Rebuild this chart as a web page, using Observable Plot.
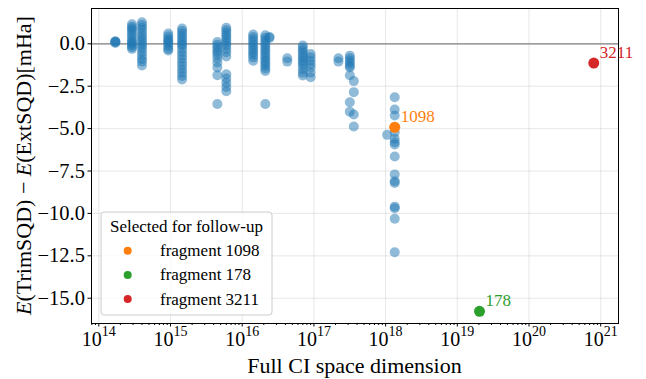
<!DOCTYPE html>
<html><head><meta charset="utf-8">
<script src="https://cdn.jsdelivr.net/npm/d3@7"></script>
<script src="https://cdn.jsdelivr.net/npm/@observablehq/plot@0.6"></script>
<style>body{margin:0;background:#fff} #chart svg{display:block}</style>
</head><body><div id="chart"></div>
<script>
// Full CI space dimension of each column of fragments
const columnDims = [1.7e14, 2.9e14, 4.0e14, 9.3e14, 1.45e15, 4.5e15, 6.0e15, 1.42e16, 2.1e16, 2.4e16,
  4.25e16, 7.0e16, 9.0e16, 2.2e17, 3.17e17, 3.6e17, 1.05e18, 1.34e18];
// Energy differences (mHa) for the fragments in each column
const columnValues = [
  [0.15, 0.1, 0.05, 0.12],
  [1.15, 1.0, 0.9, 0.8, 0.65, 0.5, 0.35, 0.2, 0.1, 0.0, -0.1, -0.2, -0.3],
  [1.27, 1.1, 0.95, 0.8, 0.6, 0.45, 0.3, 0.15, 0.0, -0.15, -0.3, -0.5, -0.7, -0.9, -1.05, -1.28],
  [0.6, 0.45, 0.3, 0.2, 0.1, 0.0, -0.15, -0.3, -0.4],
  [0.9, 0.75, 0.6, 0.45, 0.3, 0.15, 0.0, -0.1, -0.3, -0.5, -0.7, -0.9, -1.1, -1.3, -1.5, -1.7, -1.9, -2.1],
  [0.1, -0.05, -0.2, -0.35, -0.5, -0.65, -0.85, -1.1, -1.4, -1.85, -3.55],
  [0.95, 0.8, 0.65, 0.5, 0.35, 0.2, 0.05, -0.1, -0.3, -0.5, -0.75, -1.8, -2.05, -2.3, -2.55, -2.8],
  [0.55, 0.4, 0.25, 0.1, -0.05, -0.2, -0.35, -0.5, -0.65, -0.8, -1.0],
  [0.5, 0.35, 0.2, 0.05, -0.1, -0.25, -0.4, -0.55, -0.7, -0.85, -1.0, -1.15, -1.3, -1.45, -1.6, -3.55],
  [0.4, 0.35],
  [-0.85, -1.05],
  [-0.1, -0.25, -0.4, -0.55, -0.7, -0.85, -1.0, -1.15, -1.3, -1.5, -1.7, -1.87],
  [-0.6, -0.8, -1.0, -1.2, -1.4, -1.7, -1.97],
  [-0.85, -1.05],
  [-0.7, -0.85, -1.0, -1.15, -1.3, -1.4, -1.85, -3.45, -4.0],
  [-2.2, -2.85, -4.17, -4.88],
  [-5.37],
  [-3.15, -3.87, -4.23, -5.21, -5.6, -5.8, -5.94, -6.64, -7.7, -8.1, -8.2, -9.6, -9.7, -10.32, -12.29]
];
// Selected fragments
const selNames = ["fragment 1098", "fragment 178", "fragment 3211"];
const selLabels = ["1098", "178", "3211"];
const selDims = [1.34e18, 2.04e19, 8.0e20];
const selValues = [-4.92, -15.77, -1.14];
const selColors = ["#ff7f0e", "#2ca02c", "#d62728"];
// Axis ticks
const xTickExps = [14, 15, 16, 17, 18, 19, 20, 21];
const yTicks = [0, -2.5, -5, -7.5, -10, -12.5, -15];

const blue = columnDims.flatMap((x, i) => columnValues[i].map(y => ({x, y})));
const sel = selDims.map((x, i) => ({x, y: selValues[i], label: selLabels[i], color: selColors[i]}));
const xDecades = xTickExps.map(e => Math.pow(10, e));
const xDomain = [Math.pow(10, 13.898), Math.pow(10, 21.248)];
const minor = d3.scaleLog().domain(xDomain).ticks().filter(t => !xDecades.some(d => Math.abs(d - t) / d < 1e-9));

const FONT = "'Liberation Serif', 'Times New Roman', serif";
const W = 646, H = 379, ML = 91, MR = 28, MT = 8, MB = 56;

const chart = Plot.plot({
  width: W, height: H,
  marginLeft: ML, marginRight: MR, marginTop: MT, marginBottom: MB,
  x: {type: "log", domain: xDomain},
  y: {domain: [-16.49, 2.08]},
  style: {fontFamily: FONT, fontSize: "20px", background: "white", color: "black"},
  marks: [
    Plot.gridX(xDecades, {stroke: "#b0b0b0", strokeOpacity: 0.3, strokeWidth: 1}),
    Plot.gridY(yTicks, {stroke: "#b0b0b0", strokeOpacity: 0.3, strokeWidth: 1}),
    Plot.ruleY([0], {stroke: "#808080", strokeWidth: 1.2}),
    Plot.dot(blue, {x: "x", y: "y", r: 5, fill: "#1f77b4", fillOpacity: 0.5, stroke: "none"}),
    Plot.dot(sel, {x: "x", y: "y", r: 5.5, fill: "color", stroke: "none"}),
    Plot.text(sel, {x: "x", y: "y", text: "label", fill: "color", dx: 6, dy: -11, textAnchor: "start", fontSize: 17}),
    Plot.frame({stroke: "black", strokeWidth: 1}),
    Plot.axisY({ticks: yTicks, tickFormat: d3.format(".1f"), tickSize: 3.5, tickPadding: 3, fontSize: 20.5, label: null}),
    Plot.axisX({ticks: xDecades, tickSize: 3.5, tickFormat: () => "", label: null}),
    Plot.axisX({ticks: minor, tickSize: 2, tickFormat: () => "", label: null}),
    Plot.text(xDecades, {x: d => d, frameAnchor: "bottom", text: () => "10", dy: 22.6, dx: -7, fontSize: 20}),
    Plot.text(xDecades, {x: d => d, frameAnchor: "bottom", text: (d, i) => String(xTickExps[i]), dy: 12.5, dx: 3, textAnchor: "start", fontSize: 14})
  ]
});

const svg = d3.select(chart);
// Axis titles
svg.append("text").attr("x", (ML + W - MR) / 2).attr("y", 373).attr("text-anchor", "middle")
  .attr("font-family", FONT).attr("font-size", 22).attr("fill", "black").text("Full CI space dimension");
const yl = svg.append("text").attr("transform", `translate(31,${(MT + H - MB) / 2}) rotate(-90)`)
  .attr("text-anchor", "middle").attr("font-family", FONT).attr("font-size", 22).attr("fill", "black");
yl.append("tspan").attr("font-style", "italic").text("E");
yl.append("tspan").text("(TrimSQD) \u2212 ");
yl.append("tspan").attr("font-style", "italic").text("E");
yl.append("tspan").text("(ExtSQD)[mHa]");

// Legend
const lg = svg.append("g").attr("font-family", FONT).attr("text-anchor", "start");
lg.append("rect").attr("x", 101).attr("y", 212).attr("width", 171).attr("height", 103).attr("rx", 3)
  .attr("fill", "white").attr("fill-opacity", 0.8).attr("stroke", "#cccccc").attr("stroke-width", 1);
lg.append("text").attr("x", 186.5).attr("y", 232).attr("text-anchor", "middle").attr("font-size", 17)
  .attr("fill", "black").text("Selected for follow-up");
selNames.forEach((name, i) => {
  const cy = 250.7 + i * 24.2;
  lg.append("circle").attr("cx", 127.7).attr("cy", cy).attr("r", 4).attr("fill", selColors[i]);
  lg.append("text").attr("x", 160).attr("y", cy + 5.5).attr("text-anchor", "start").attr("font-size", 17)
    .attr("fill", "black").text(name);
});

document.getElementById("chart").appendChild(chart);
</script></body></html>
